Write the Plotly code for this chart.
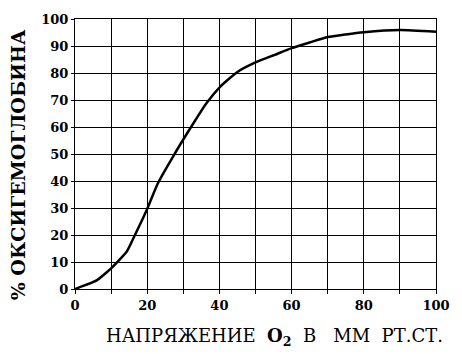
import plotly.graph_objects as go

po2 = [0, 3, 6, 10.3, 14.4, 16.6, 18.4, 20.2, 22.9, 27.4, 31.5, 36.4, 40.2, 44.9, 50, 55.3, 60, 65, 70, 75, 80, 90, 100]
hbo2 = [0, 1.5, 3.2, 8, 14, 20, 25, 30.3, 39, 49.6, 58.6, 68.8, 74.9, 80.3, 83.9, 86.7, 89.2, 91.3, 93.3, 94.3, 95.1, 95.9, 95.3]

x_ticks = [0, 20, 40, 60, 80, 100]
x_tick_labels = ["0", "20", "40", "60", "80", "100"]
y_ticks = [0, 10, 20, 30, 40, 50, 60, 70, 80, 90, 100]
y_tick_labels = [str(v) for v in y_ticks]

SERIF = "DejaVu Serif"

fig = go.Figure()
fig.add_trace(go.Scatter(x=po2, y=hbo2, mode="lines", line=dict(color="black", width=2.5, shape="spline", smoothing=0.5), showlegend=False))

tickfont = dict(family=SERIF, size=13, color="black", weight="bold")
fig.update_xaxes(range=[0, 100], tickvals=x_ticks, ticktext=x_tick_labels, showgrid=True, gridcolor="black", gridwidth=1,
                 showline=True, linecolor="black", linewidth=1, mirror=True, ticks="outside", ticklen=4, tickcolor="black",
                 minor=dict(dtick=10, tick0=0, showgrid=True, gridcolor="black", gridwidth=1, ticks="outside", ticklen=4, tickcolor="black"),
                 tickfont=tickfont, zeroline=False)
fig.update_yaxes(range=[0, 100], tickvals=y_ticks, ticktext=y_tick_labels, showgrid=True, gridcolor="black", gridwidth=1,
                 showline=True, linecolor="black", linewidth=1, mirror=True, ticks="outside", ticklen=3, tickcolor="black",
                 tickfont=tickfont, zeroline=False)

fig.add_annotation(text="% ОКСИГЕМОГЛОБИНА", xref="paper", yref="paper", x=0, y=0.458, xshift=-57, textangle=-90,
                   showarrow=False, xanchor="center", yanchor="middle",
                   font=dict(family=SERIF, size=19, color="black", weight="bold"))
fig.add_annotation(text="НАПРЯЖЕНИЕ&nbsp; <b>O<sub>2</sub></b>&nbsp; В&nbsp;&nbsp; ММ&nbsp; РТ.СТ.", xref="paper", yref="paper", x=0.553, y=0, yshift=-48,
                   showarrow=False, xanchor="center", yanchor="middle",
                   font=dict(family=SERIF, size=18, color="black"))

fig.update_layout(width=462, height=354, margin=dict(l=75, r=16, t=12, b=65),
                  plot_bgcolor="white", paper_bgcolor="white")
fig.write_html("out.html")
